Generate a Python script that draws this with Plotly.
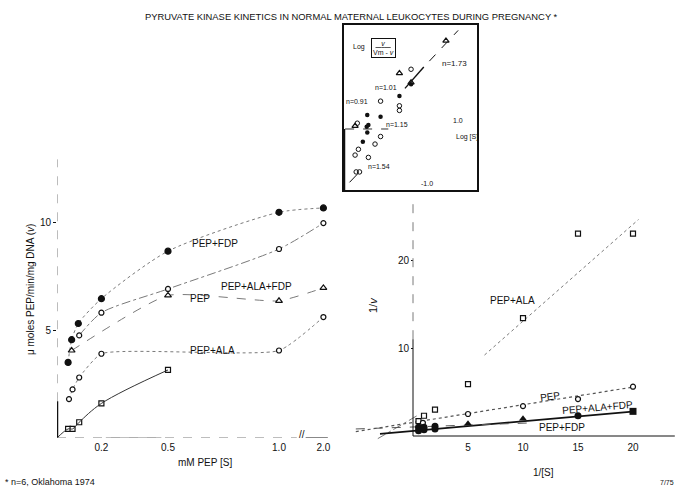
import plotly.graph_objects as go

W, H = 678, 491
def px(x): return x / W
def py(y): return 1 - y / H

def brk(s):
    return s if s <= 1 else 1 + (s - 1) * 0.2

# ---------------- Left panel: v vs [S] (mM PEP) ----------------
fdp_S = [0.05, 0.066, 0.096, 0.2, 0.5, 1.0, 2.0]
fdp_v = [3.5, 4.55, 5.3, 6.45, 8.65, 10.45, 10.65]

pep_S = [0.1, 0.2, 0.5, 1.0, 2.0]
pep_v = [4.75, 5.8, 6.9, 8.75, 9.95]

alafdp_S = [0.066, 0.5, 1.0, 2.0]
alafdp_v = [4.05, 6.6, 6.35, 6.95]

ala_S = [0.054, 0.07, 0.1, 0.2, 1.0, 2.0]
ala_v = [1.8, 2.25, 2.8, 3.9, 4.05, 5.6]

sq_S = [0.0, 0.05, 0.07, 0.1, 0.2, 0.5]
sq_v = [0.0, 0.42, 0.42, 0.73, 1.6, 3.15]

left_xticks = [0.2, 0.5, 1.0, 2.0]
left_xticklabels = ["0.2", "0.5", "1.0", "2.0"]
left_yticks = [5, 10]

# ---------------- Right panel: 1/v vs 1/[S] ----------------
r_ala_x = [0.5, 1, 2, 5, 10, 15, 20]
r_ala_y = [1.7, 2.3, 3.0, 5.9, 13.4, 23.0, 23.0]

r_pep_x = [0.9, 5, 10, 15, 20]
r_pep_y = [1.5, 2.5, 3.4, 4.2, 5.6]

r_alafdp_x = [5, 10, 15, 20]
r_alafdp_y = [1.4, 1.95, 2.3, 2.8]

r_fdp_x = [0.5, 0.5, 1, 1, 2, 2]
r_fdp_y = [0.6, 1.0, 0.7, 1.0, 0.8, 1.1]

fit_ala_x, fit_ala_y = [6.5, 20.5], [9.2, 24.6]
fit_ala2_x, fit_ala2_y = [-3.2, 0.5], [-0.3, 2.4]
fit_pep_x, fit_pep_y = [-5.2, 20.2], [0.5, 5.6]
fit_alafdp_x, fit_alafdp_y = [-3.0, 20.2], [0.25, 2.8]
fit_fdp_x, fit_fdp_y = [-5.2, 11.0], [0.8, 1.5]

right_xticks = [5, 10, 15, 20]
right_yticks = [10, 20]

# ---------------- Inset: Hill plot ----------------
hill_filled_x = [0.555, 0.45, 0.16, 0.28, 0.155, 0.16, 0.17, 0.12]
hill_filled_y = [0.77, 0.57, 0.24, 0.21, 0.04, -0.06, 0.07, -0.22]
hill_open_x = [0.555, 0.45, 0.45, 0.28, 0.07, 0.28, 0.23, 0.08, 0.05, 0.17, 0.06, 0.09]
hill_open_y = [1.03, 0.40, 0.32, 0.48, 0.10, -0.13, -0.26, -0.35, -0.45, -0.49, -0.74, -0.74]
hill_tri_x = [0.87, 0.45, 0.555, 0.05]
hill_tri_y = [1.52, 0.96, 0.80, 0.05]
hill_fit_x, hill_fit_y = [0.50, 0.67], [0.70, 1.07]
hill_fit2_x, hill_fit2_y = [0.72, 0.98], [1.17, 1.70]
hill_fit3_x, hill_fit3_y = [0.0, 0.07], [-0.92, -0.78]
hill_zero_x, hill_zero_y = [-0.04, 0.35], [0, 0]

BLACK = "#111111"
GREY = "#7a7a7a"

fig = go.Figure()

def mk(sym, size=5, filled=False):
    return dict(symbol=sym, size=size, color=BLACK if filled else "white",
                line=dict(color=BLACK, width=1.2))

# left traces
fig.add_trace(go.Scatter(x=[brk(s) for s in fdp_S], y=fdp_v, mode="lines+markers",
                         line=dict(color=GREY, width=1, dash="dot", shape="spline", smoothing=0.7),
                         marker=mk("circle", 6, True), xaxis="x", yaxis="y", cliponaxis=False))
fig.add_trace(go.Scatter(x=[brk(s) for s in pep_S], y=pep_v, mode="lines+markers",
                         line=dict(color=GREY, width=1, dash="dashdot", shape="spline", smoothing=0.7),
                         marker=mk("circle", 5), xaxis="x", yaxis="y", cliponaxis=False))
fig.add_trace(go.Scatter(x=[brk(s) for s in alafdp_S], y=alafdp_v, mode="lines+markers",
                         line=dict(color=GREY, width=1, dash="dash", shape="spline", smoothing=0.5),
                         marker=mk("triangle-up", 6), xaxis="x", yaxis="y", cliponaxis=False))
fig.add_trace(go.Scatter(x=[brk(s) for s in ala_S], y=ala_v, mode="lines+markers",
                         line=dict(color=GREY, width=1, dash="dot", shape="spline", smoothing=0.5),
                         marker=mk("circle", 5), xaxis="x", yaxis="y", cliponaxis=False))
fig.add_trace(go.Scatter(x=[brk(s) for s in sq_S[1:]], y=sq_v[1:], mode="markers",
                         marker=mk("square", 5), xaxis="x", yaxis="y", cliponaxis=False))
fig.add_trace(go.Scatter(x=[brk(s) for s in sq_S], y=sq_v, mode="lines",
                         line=dict(color="#333333", width=1, shape="spline"),
                         xaxis="x", yaxis="y", cliponaxis=False))

# right traces (fit lines)
for fx, fy, dash, wd, col in [(fit_ala_x, fit_ala_y, "dot", 1, GREY),
                              (fit_ala2_x, fit_ala2_y, "dashdot", 1, GREY),
                              (fit_pep_x, fit_pep_y, "dot", 1.2, "#555555"),
                              (fit_alafdp_x, fit_alafdp_y, "solid", 1.8, BLACK),
                              (fit_fdp_x, fit_fdp_y, "dash", 1, "#555555")]:
    fig.add_trace(go.Scatter(x=fx, y=fy, mode="lines", line=dict(color=col, width=wd, dash=dash),
                             xaxis="x2", yaxis="y2", cliponaxis=False))
fig.add_trace(go.Scatter(x=r_ala_x, y=r_ala_y, mode="markers", marker=mk("square", 5),
                         xaxis="x2", yaxis="y2", cliponaxis=False))
fig.add_trace(go.Scatter(x=r_pep_x, y=r_pep_y, mode="markers", marker=mk("circle", 5),
                         xaxis="x2", yaxis="y2", cliponaxis=False))
fig.add_trace(go.Scatter(x=r_alafdp_x, y=r_alafdp_y, mode="markers",
                         marker=dict(symbol=["triangle-up", "triangle-up", "circle", "square"],
                                     size=7, color=BLACK),
                         xaxis="x2", yaxis="y2", cliponaxis=False))
fig.add_trace(go.Scatter(x=r_fdp_x, y=r_fdp_y, mode="markers",
                         marker=dict(symbol="circle", size=7, color=BLACK),
                         xaxis="x2", yaxis="y2", cliponaxis=False))

# inset traces
fig.add_trace(go.Scatter(x=hill_zero_x, y=hill_zero_y, mode="lines",
                         line=dict(color="#333333", width=1, dash="dash"), xaxis="x3", yaxis="y3",
                         cliponaxis=False))
for fx, fy, dash, wd in [(hill_fit_x, hill_fit_y, "solid", 1.4), (hill_fit2_x, hill_fit2_y, "dash", 1),
                         (hill_fit3_x, hill_fit3_y, "solid", 1)]:
    fig.add_trace(go.Scatter(x=fx, y=fy, mode="lines", line=dict(color=BLACK, width=wd, dash=dash),
                             xaxis="x3", yaxis="y3"))
fig.add_trace(go.Scatter(x=hill_filled_x, y=hill_filled_y, mode="markers",
                         marker=dict(symbol="circle", size=4.5, color=BLACK), xaxis="x3", yaxis="y3",
                         cliponaxis=False))
fig.add_trace(go.Scatter(x=hill_open_x, y=hill_open_y, mode="markers",
                         marker=dict(symbol="circle-open", size=4.5, color=BLACK, line=dict(width=1)),
                         xaxis="x3", yaxis="y3", cliponaxis=False))
fig.add_trace(go.Scatter(x=hill_tri_x, y=hill_tri_y, mode="markers",
                         marker=dict(symbol="triangle-up-open", size=5.5, color=BLACK, line=dict(width=1.2)),
                         xaxis="x3", yaxis="y3", cliponaxis=False))

FONT = "Liberation Sans"
tickfont = dict(family=FONT, size=10, color=BLACK)

L_X0, L_X1 = 57, 335
L_Y0, L_Y1 = 438, 155
L_XPU = 222.0
L_YPU = 21.6
R_X0, R_X1 = 350, 675
R_Y0, R_Y1 = 446, 200
R_XORG, R_YORG = 413, 436
R_XPU, R_YPU = 11.0, 8.8

fig.update_layout(
    width=W, height=H, margin=dict(l=0, r=0, t=0, b=0),
    paper_bgcolor="white", plot_bgcolor="white", showlegend=False,
    font=dict(family=FONT, color=BLACK),
    xaxis=dict(domain=[px(L_X0), px(L_X1)], range=[0, (L_X1 - L_X0) / L_XPU],
               tickvals=[brk(t) for t in left_xticks], ticktext=left_xticklabels,
               ticks="", showgrid=False, zeroline=False, showline=False,
               tickfont=tickfont, ticklabelstandoff=2, anchor="y"),
    yaxis=dict(domain=[py(L_Y0), py(L_Y1)], range=[0, (L_Y0 - L_Y1) / L_YPU],
               tickvals=left_yticks, ticks="outside", ticklen=3, tickcolor=BLACK,
               showgrid=False, zeroline=False, showline=False, tickfont=tickfont, anchor="x"),
    xaxis2=dict(domain=[px(R_X0), px(R_X1)],
                range=[-(R_XORG - R_X0) / R_XPU, (R_X1 - R_XORG) / R_XPU],
                tickvals=right_xticks, ticks="", showgrid=False, zeroline=False, showline=False,
                tickfont=tickfont, anchor="free", position=py(R_YORG), ticklabelstandoff=4),
    yaxis2=dict(domain=[py(R_Y0), py(R_Y1)],
                range=[-(R_Y0 - R_YORG) / R_YPU, (R_YORG - R_Y1) / R_YPU],
                tickvals=right_yticks, ticks="outside", ticklen=2, tickcolor=BLACK,
                showgrid=False, zeroline=False, showline=False, tickfont=tickfont,
                anchor="free", position=px(R_XORG)),
    xaxis3=dict(domain=[px(344), px(477)], range=[-0.05, 1.15], showticklabels=False, ticks="",
                showgrid=False, zeroline=False, showline=True, mirror=True,
                linecolor=BLACK, linewidth=1.5, anchor="y3"),
    yaxis3=dict(domain=[py(190), py(25)], range=[-1.052, 1.793], showticklabels=False, ticks="",
                showgrid=False, zeroline=False, showline=True, mirror=True,
                linecolor=BLACK, linewidth=1.5, anchor="x3"),
)

shapes = []
shapes.append(dict(type="line", xref="x", yref="y", x0=0, x1=0, y0=1.7, y1=12.9,
                   line=dict(color=GREY, width=1, dash="dash")))
shapes.append(dict(type="line", xref="x", yref="y", x0=0, x1=0, y0=0, y1=1.7,
                   line=dict(color=BLACK, width=2.5)))
shapes.append(dict(type="line", xref="x", yref="y", x0=0, x1=1.08, y0=0, y1=0,
                   line=dict(color=GREY, width=1, dash="dash")))
shapes.append(dict(type="line", xref="x", yref="y", x0=0.22, x1=0.47, y0=0, y1=0,
                   line=dict(color="#aaaaaa", width=1.5)))
shapes.append(dict(type="line", xref="x", yref="y", x0=1.12, x1=1.22, y0=0, y1=0,
                   line=dict(color=BLACK, width=1)))
shapes.append(dict(type="line", xref="x2", yref="y2", x0=0, x1=0, y0=0, y1=11,
                   line=dict(color=BLACK, width=1)))
shapes.append(dict(type="line", xref="x2", yref="y2", x0=0, x1=0, y0=11, y1=26.8,
                   line=dict(color=GREY, width=1, dash="dash")))
shapes.append(dict(type="line", xref="x2", yref="y2", x0=0, x1=23.8, y0=0, y1=0,
                   line=dict(color=BLACK, width=1)))
shapes.append(dict(type="line", xref="x3", yref="y3", x0=-0.05, x1=-0.05, y0=-1.05, y1=0,
                   line=dict(color=BLACK, width=2.5)))
fig.update_layout(shapes=shapes)

def ann(text, x, y, size=10, xanchor="center", angle=0, **kw):
    d = dict(text=text, x=px(x), y=py(y), xref="paper", yref="paper", showarrow=False,
             font=dict(family=FONT, size=size, color=BLACK), xanchor=xanchor, yanchor="middle",
             textangle=angle)
    d.update(kw)
    return d

anns = [
    ann("PYRUVATE KINASE KINETICS IN NORMAL MATERNAL LEUKOCYTES DURING PREGNANCY *", 351, 17, 9.4),
    ann("μ moles PEP/min/mg DNA (<i>v</i>)", 30, 290, 10, angle=-90),
    ann("mM PEP [S]", 205, 462, 10),
    ann("* n=6, Oklahoma 1974", 3, 482, 9, xanchor="left"),
    ann("7/75", 667, 482, 7),
    ann("PEP+FDP", 190, 243, 10, xanchor="left"),
    ann("PEP", 188, 298, 10, xanchor="left"),
    ann("PEP+ALA+FDP", 219, 286, 10, xanchor="left"),
    ann("PEP+ALA", 188, 350, 10, xanchor="left"),
    ann("//", 302, 434, 10),
    ann("1/<i>v</i>", 373, 305, 11, angle=-90),
    ann("1/[S]", 543, 472, 10),
    ann("PEP+ALA", 488, 300, 10, xanchor="left"),
    ann("PEP", 537, 396, 10, xanchor="left", angle=-8),
    ann("PEP+ALA+FDP", 559, 407, 10, xanchor="left", angle=-5),
    ann("PEP+FDP", 537, 427, 10, xanchor="left"),
    ann("Log", 351, 47, 7, xanchor="left"),
    ann("<u>   <i>v</i>   </u><br>Vm - <i>v</i>", 383, 48, 7, bordercolor=BLACK, borderwidth=1,
        borderpad=1),
    ann("n=1.73", 440, 63, 8, xanchor="left"),
    ann("n=1.01", 373, 87, 7, xanchor="left"),
    ann("n=0.91", 344, 101, 7, xanchor="left"),
    ann("n=1.15", 384, 124, 7, xanchor="left"),
    ann("n=1.54", 366, 167, 7, xanchor="left"),
    ann("1.0", 458, 120, 7),
    ann("Log [S]", 467, 137, 7),
    ann("-1.0", 427, 184, 7),
]
fig.update_layout(annotations=anns)

fig.write_html("out.html")
